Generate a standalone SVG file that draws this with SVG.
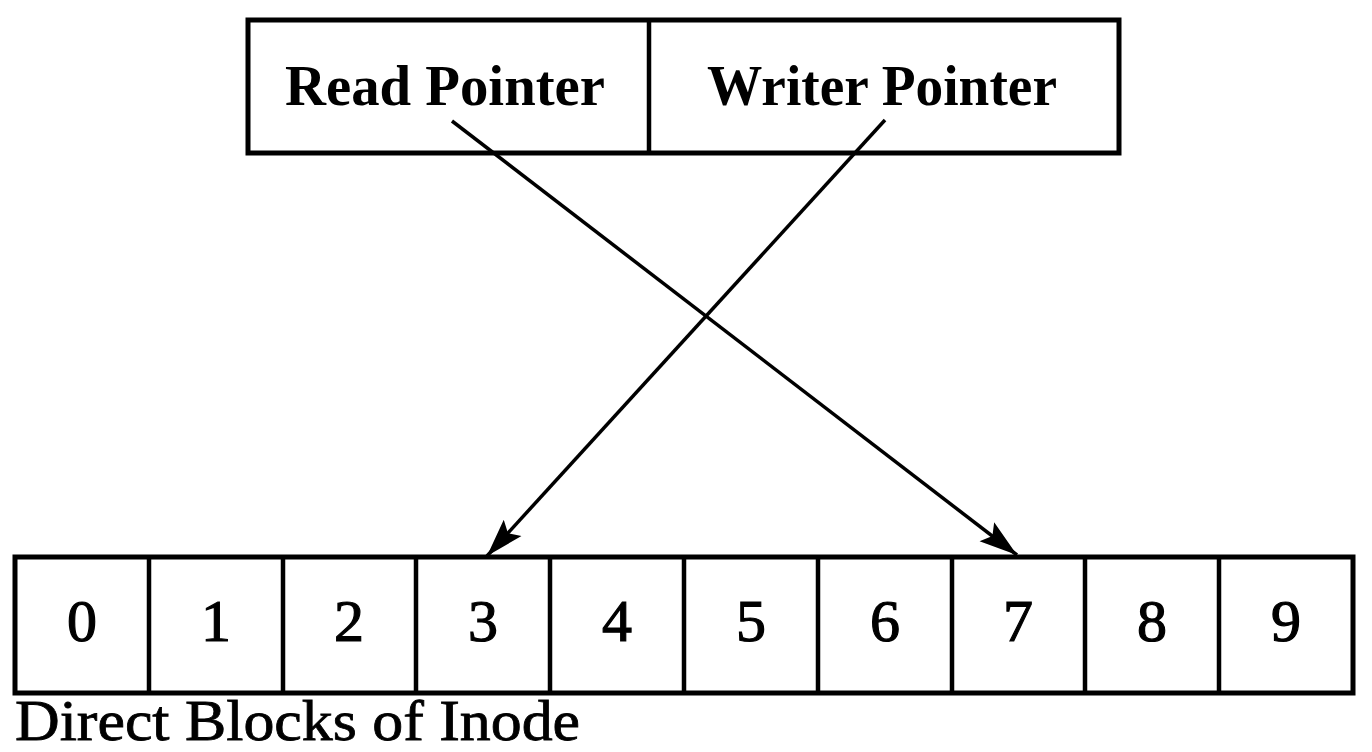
<svg xmlns="http://www.w3.org/2000/svg" width="1372" height="752" viewBox="0 0 1372 752">
<style>
.box{fill:none;stroke:#000;stroke-width:5}
.div{stroke:#000;stroke-width:4.5}
.lbl{font-family:"Liberation Serif","Times New Roman",serif;font-weight:bold;font-size:58px;fill:#000}
.num{font-family:"Liberation Serif","Times New Roman",serif;font-size:60px;fill:#000;stroke:#000;stroke-width:1.2;text-anchor:middle}
.cap{font-family:"Liberation Serif","Times New Roman",serif;font-size:58px;fill:#000;stroke:#000;stroke-width:0.8}
.conn{fill:none;stroke:#000;stroke-width:3.5}
</style>
<defs>
<marker id="arr" markerUnits="userSpaceOnUse" markerWidth="40" markerHeight="28" refX="38" refY="14" orient="auto">
<path d="M0,2 L38,14 L0,26 L7,14 Z" fill="#000"/>
</marker>
</defs>
<rect width="1372" height="752" fill="#fff"/>
<g id="pointers">
<rect class="box" x="248" y="20" width="871" height="133"/>
<line class="div" x1="649" y1="20" x2="649" y2="153"/>
<text class="lbl" x="285" y="105" textLength="320" lengthAdjust="spacingAndGlyphs">Read Pointer</text>
<text class="lbl" x="707" y="105" textLength="350" lengthAdjust="spacingAndGlyphs">Writer Pointer</text>
</g>
<g id="blocks">
<rect class="box" x="15" y="557" width="1338" height="136"/>
<line class="div" x1="149" y1="557" x2="149" y2="693"/>
<line class="div" x1="283" y1="557" x2="283" y2="693"/>
<line class="div" x1="416" y1="557" x2="416" y2="693"/>
<line class="div" x1="550" y1="557" x2="550" y2="693"/>
<line class="div" x1="684" y1="557" x2="684" y2="693"/>
<line class="div" x1="818" y1="557" x2="818" y2="693"/>
<line class="div" x1="952" y1="557" x2="952" y2="693"/>
<line class="div" x1="1085" y1="557" x2="1085" y2="693"/>
<line class="div" x1="1219" y1="557" x2="1219" y2="693"/>
<text class="num" x="82" y="641">0</text>
<text class="num" x="216" y="641">1</text>
<text class="num" x="349" y="641">2</text>
<text class="num" x="483" y="641">3</text>
<text class="num" x="617" y="641">4</text>
<text class="num" x="751" y="641">5</text>
<text class="num" x="885" y="641">6</text>
<text class="num" x="1018" y="641">7</text>
<text class="num" x="1152" y="641">8</text>
<text class="num" x="1286" y="641">9</text>
</g>
<g id="caption">
<text class="cap" x="15" y="740" textLength="565" lengthAdjust="spacingAndGlyphs">Direct Blocks of Inode</text>
</g>
<g id="connectors">
<line class="conn" x1="452" y1="121" x2="1017" y2="555" marker-end="url(#arr)"/>
<line class="conn" x1="885" y1="120" x2="487" y2="556" marker-end="url(#arr)"/>
</g>
</svg>
